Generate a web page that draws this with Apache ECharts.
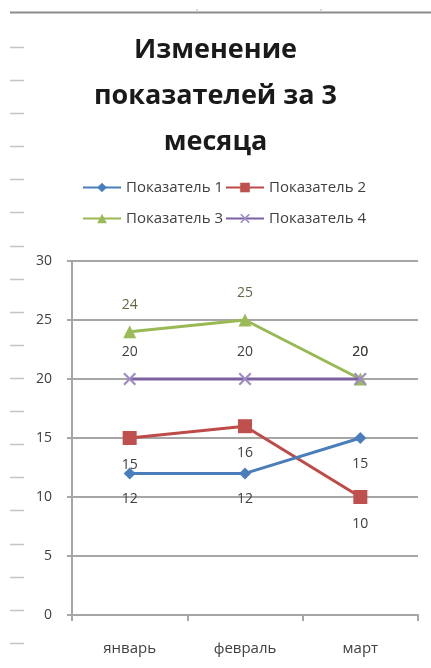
<!DOCTYPE html>
<html><head><meta charset="utf-8">
<script src="https://cdn.jsdelivr.net/npm/echarts@6/dist/echarts.min.js"></script>
<style>html,body{margin:0;padding:0;background:#fff}#c{width:431px;height:668px}</style>
</head><body><div id="c"></div>
<script>
const categories = ['январь', 'февраль', 'март'];
const seriesNames = ['Показатель 1', 'Показатель 2', 'Показатель 3', 'Показатель 4'];
const p1 = [12, 12, 15];
const p2 = [15, 16, 10];
const p3 = [24, 25, 20];
const p4 = [20, 20, 20];
const yTicks = {min: 0, max: 30, interval: 5};
const titleText = 'Изменение\nпоказателей за 3\nмесяца';

const FONT = 'Open Sans';
const xPath = 'path://M0,1.2L1.2,0L5,3.8L8.8,0L10,1.2L6.2,5L10,8.8L8.8,10L5,6.2L1.2,10L0,8.8L3.8,5Z';

const deco = [];
deco.push({type:'line', shape:{x1:10,y1:12.5,x2:431,y2:12.5}, style:{stroke:'#8c8c8c', lineWidth:2}});
deco.push({type:'line', shape:{x1:197,y1:9,x2:197,y2:12}, style:{stroke:'#bbb', lineWidth:1}});
deco.push({type:'line', shape:{x1:321,y1:9,x2:321,y2:12}, style:{stroke:'#bbb', lineWidth:1}});
for (let y = 47; y < 668; y += 33.1) {
  deco.push({type:'line', shape:{x1:10,y1:Math.round(y)+0.5,x2:24,y2:Math.round(y)+0.5}, style:{stroke:'#c4c4c4', lineWidth:1.5}});
}

function lbl(pos, color) {
  return {show:true, position:pos, distance:13, fontFamily:FONT, fontSize:14, color:color};
}

const legendText = {fontFamily:FONT, fontSize:15, color:'#404040'};
const chart = echarts.init(document.getElementById('c'), null, {renderer:'canvas'});
chart.setOption({
  backgroundColor:'#fff',
  animation:false,
  graphic: deco,
  title:{text:titleText, left:'center', top:22, textStyle:{fontFamily:FONT, fontSize:27, fontWeight:'bold', color:'#1a1a1a', lineHeight:46}},
  legend:[
    {data:[seriesNames[0], seriesNames[1]], left:80, top:178, padding:2, itemWidth:38, itemHeight:12, itemGap:2, textStyle:legendText},
    {data:[seriesNames[2], seriesNames[3]], left:80, top:209, padding:2, itemWidth:38, itemHeight:12, itemGap:2, textStyle:legendText}
  ],
  grid:{left:72, right:13, top:261, bottom:53},
  xAxis:{type:'category', data:categories, boundaryGap:true,
    axisLine:{lineStyle:{color:'#a6a6a6', width:2}},
    axisTick:{show:true, length:6, lineStyle:{color:'#a6a6a6', width:2}},
    axisLabel:{fontFamily:FONT, fontSize:15, color:'#404040', margin:26}},
  yAxis:{type:'value', min:yTicks.min, max:yTicks.max, interval:yTicks.interval,
    axisLine:{show:true, lineStyle:{color:'#a6a6a6', width:2}},
    axisTick:{show:true, length:5, lineStyle:{color:'#a6a6a6', width:2}},
    splitLine:{lineStyle:{color:'#a6a6a6', width:2}},
    axisLabel:{fontFamily:FONT, fontSize:14, color:'#404040', margin:20}},
  series:[
    {name:seriesNames[0], type:'line', data:p1, symbol:'diamond', symbolSize:12,
     lineStyle:{width:3, color:'#4a7ebb'}, itemStyle:{color:'#4a7ebb'}, label:lbl('bottom','#404040'), z:4},
    {name:seriesNames[1], type:'line', data:p2, symbol:'rect', symbolSize:14,
     lineStyle:{width:3, color:'#be4b48'}, itemStyle:{color:'#c0504d'}, label:lbl('bottom','#404040'), z:3},
    {name:seriesNames[2], type:'line', data:p3, symbol:'triangle', symbolSize:13,
     lineStyle:{width:3, color:'#98b954'}, itemStyle:{color:'#9bbb59'}, label:lbl('top','#5f6b45'), z:2},
    {name:seriesNames[3], type:'line', data:p4, symbol:xPath, symbolSize:13,
     lineStyle:{width:3, color:'#7d60a0'}, itemStyle:{color:'#a08cc4'}, label:lbl('top','#404040'), z:5}
  ]
});
</script></body></html>
